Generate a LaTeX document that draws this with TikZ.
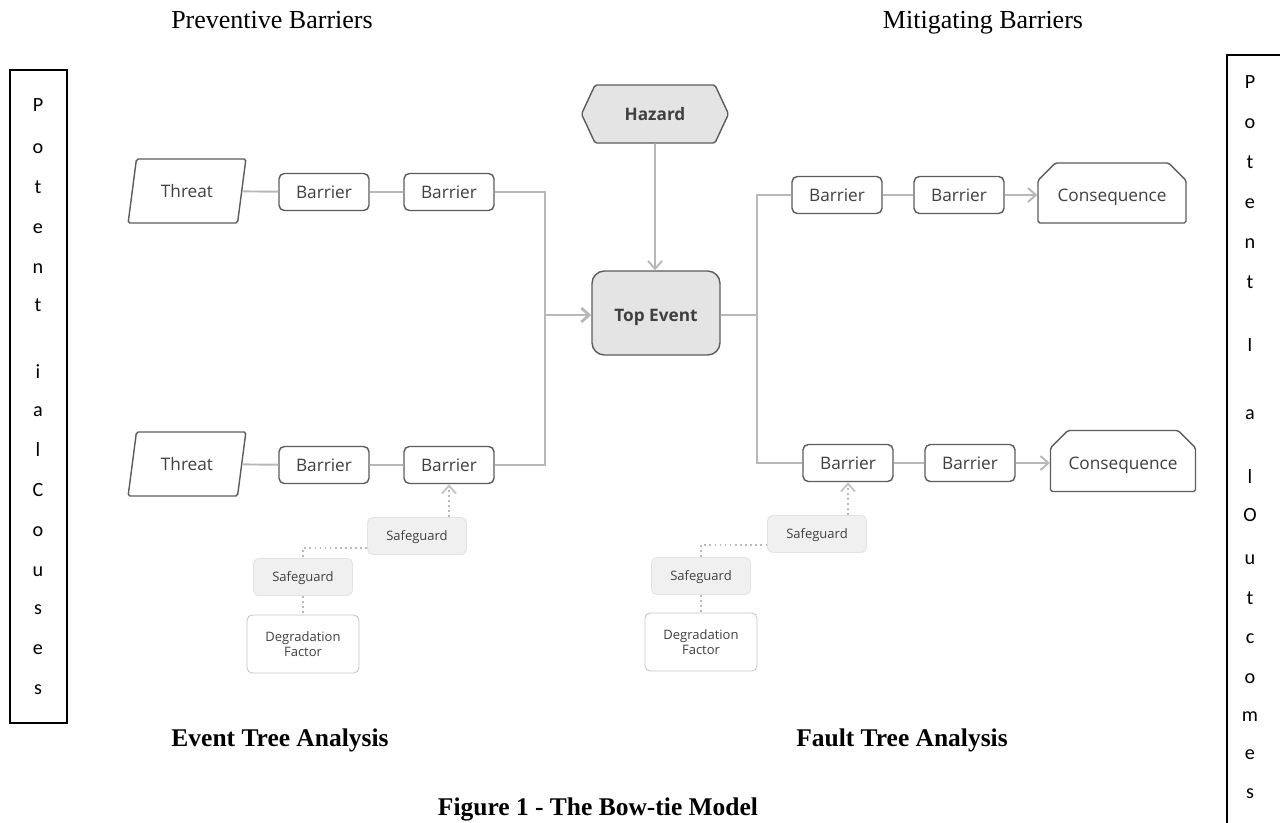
\documentclass[tikz,border=0pt]{standalone}
\usepackage{fontspec}
\setmainfont{Liberation Serif}
\newfontfamily\diagfont{Open Sans}
\newfontfamily\sidefont{Carlito}
\usetikzlibrary{shapes.geometric,shapes.symbols,shapes.misc,arrows.meta}
\definecolor{boxgray}{HTML}{5C5C5C}
\definecolor{linegray}{HTML}{B8B8B8}
\definecolor{txtgray}{HTML}{404040}
\definecolor{hazfill}{HTML}{E4E4E4}
\definecolor{sgfill}{HTML}{F0F0F0}
\begin{document}
\begin{tikzpicture}[x=0.02cm,y=-0.02cm,
	box/.style={draw=boxgray,line width=0.8pt,rounded corners=3pt,fill=white,text=txtgray,
		font=\diagfont\fontsize{9.8}{11}\selectfont,inner sep=0pt,minimum width=1.8cm,minimum height=0.74cm},
	threat/.style={box,rounded corners=1pt,trapezium,trapezium left angle=72,trapezium right angle=108,
		trapezium stretches=true,minimum width=2.36cm,minimum height=1.28cm},
	conseq/.style={box,rounded corners=1pt,chamfered rectangle,chamfered rectangle corners={north west,north east},
		chamfered rectangle xsep=0.18cm,chamfered rectangle ysep=0.18cm,minimum width=2.96cm,minimum height=1.2cm,
		text height=2.05ex,text depth=0pt},
	core/.style={box,fill=hazfill,font=\diagfont\bfseries\fontsize{9.8}{11}\selectfont},
	guard/.style={draw=gray!22,fill=sgfill,rounded corners=3pt,text=txtgray,line width=0.5pt,text depth=0pt,
		font=\diagfont\fontsize{7.4}{8.5}\selectfont,inner sep=0pt,minimum width=1.98cm,minimum height=0.74cm},
	factor/.style={guard,fill=white,draw=gray!45,align=center,text depth=,minimum width=2.24cm,minimum height=1.16cm},
	conn/.style={draw=linegray,line width=1.1pt},
	arr/.style={conn,-{Straight Barb[length=4.5pt,width=8pt]}},
	dotc/.style={draw=gray!55,line width=0.9pt,dotted},
	head/.style={font=\fontsize{14.8}{17}\selectfont,anchor=base},
	title/.style={font=\bfseries\fontsize{14.5}{17}\selectfont,anchor=base},
	letter/.style={font=\sidefont\fontsize{11.5}{13}\selectfont,anchor=base}]
\useasboundingbox (0,0) rectangle (1280,822);

% headings
\node[head] (prev) at (272,28) {Preventive Barriers};
\node[head] (miti) at (983,28) {Mitigating Barriers};

% side columns
\draw[line width=0.8pt] (10,70) rectangle (67,723);
\draw[line width=0.8pt] (1290,55) -- (1227,55) -- (1227,830);
\foreach \ch/\yy in {P/105,o/147,t/187,e/227,n/267,t/305,i/372,a/410,l/450,C/490,o/530,u/570,s/608,e/648,s/688}
	\node[letter] at (38,\yy+6) {\ch};
\foreach \ch/\yy in {P/82,o/122,t/162,e/202,n/242,t/282,I/345,a/413,l/477,O/515,u/558,t/598,c/637,o/677,m/715,e/753,s/792}
	\node[letter] at (1250,\yy+6) {\ch};

% centre
\node[core,signal,signal to=west and east,signal pointer angle=130,rounded corners=1pt,
	minimum width=2.94cm,minimum height=1.16cm] (haz) at (655,114) {Hazard};
\node[core,rounded corners=7pt,text height=2ex,text depth=0pt,
	minimum width=2.56cm,minimum height=1.68cm] (top) at (656,313) {Top Event};

% left side
\node[threat] (th1) at (187,191) {Threat};
\node[box] (b1a) at (324,192) {Barrier};
\node[box] (b1b) at (449,192) {Barrier};
\node[threat] (th2) at (187,464) {Threat};
\node[box] (b2a) at (324,465) {Barrier};
\node[box] (b2b) at (449,465) {Barrier};
\coordinate (jl) at (545,315);

% right side
\node[box] (r1a) at (837,195) {Barrier};
\node[box] (r1b) at (959,195) {Barrier};
\node[conseq] (c1) at (1112,193) {Consequence};
\node[box] (r2a) at (848,463) {Barrier};
\node[box] (r2b) at (970,463) {Barrier};
\node[conseq,minimum width=2.9cm,minimum height=1.22cm] (c2) at (1123,461) {Consequence};
\coordinate (jr) at (757,315);

% safeguards
\node[guard] (sg1) at (417,536) {Safeguard};
\node[guard] (sg2) at (303,577) {Safeguard};
\node[factor] (df1) at (303,644) {Degradation\\Factor};
\node[guard] (sg3) at (817,534) {Safeguard};
\node[guard] (sg4) at (701,576) {Safeguard};
\node[factor] (df2) at (701,642) {Degradation\\Factor};

% connectors
\draw[conn] (th1) -- (b1a) -- (b1b);
\draw[conn] (th2) -- (b2a) -- (b2b);
\draw[conn] (b1b.east) -| (jl) |- (b2b.east);
\draw[arr,line width=1.6pt] (jl) -- (jl -| top.west);
\draw[arr] (haz) -- (haz |- top.north);
\draw[conn] (jr -| top.east) -- (jr);
\draw[conn] (r1a.west) -| (jr) |- (r2a.west);
\draw[conn] (r1a) -- (r1b);
\draw[arr] (r1b) -- (r1b -| c1.west);
\draw[conn] (r2a) -- (r2b);
\draw[arr] (r2b) -- (r2b -| c2.west);

\draw[dotc] (b2b.south |- sg1.north) -- (b2b.south);
\draw[arr,draw=gray!45] ([yshift=-0.05cm]b2b.south) -- (b2b.south);
\draw[dotc] ([yshift=-0.24cm]sg1.west) -| (sg2.north);
\draw[dotc] (sg2) -- (df1);
\draw[dotc] (r2a.south |- sg3.north) -- (r2a.south);
\draw[arr,draw=gray!45] ([yshift=-0.05cm]r2a.south) -- (r2a.south);
\draw[dotc] ([yshift=-0.22cm]sg3.west) -| (sg4.north);
\draw[dotc] (sg4) -- (df2);

% bottom labels
\node[title] (eta) at (280,746) {Event Tree Analysis};
\node[title] (fta) at (902,746) {Fault Tree Analysis};
\node[title] (cap) at (598,815) {Figure 1 - The Bow-tie Model};
\end{tikzpicture}
\end{document}
